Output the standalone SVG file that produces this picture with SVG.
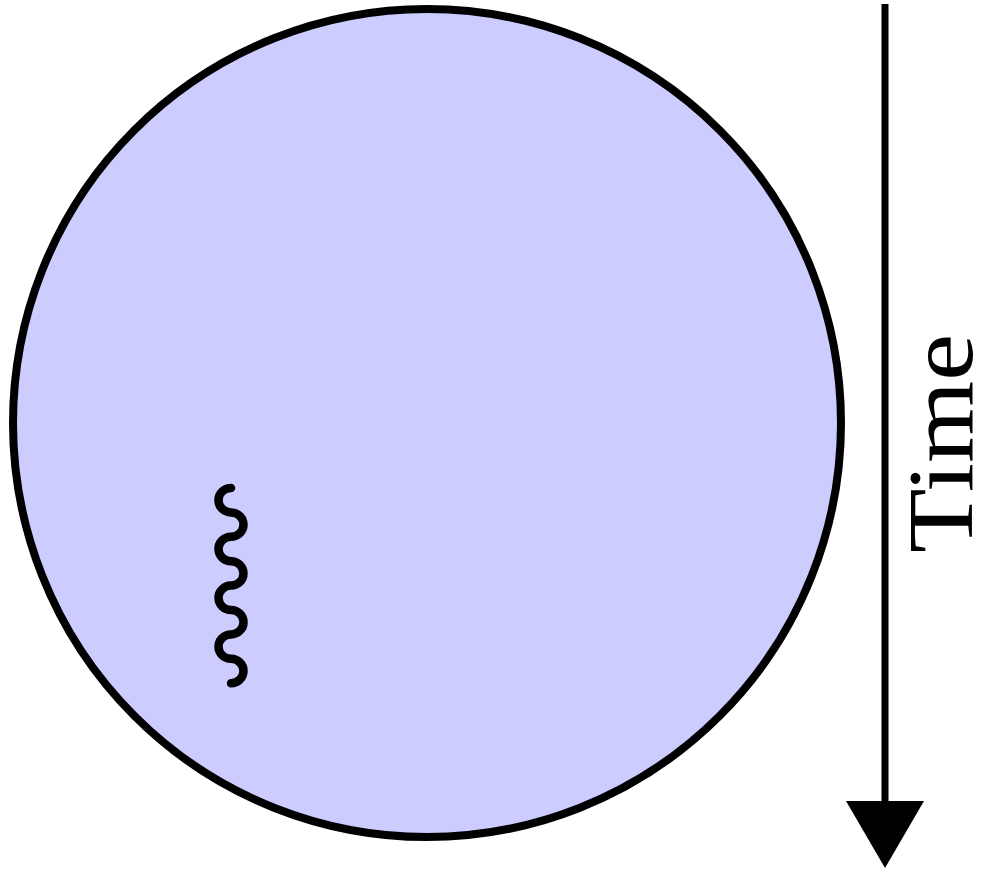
<svg xmlns="http://www.w3.org/2000/svg" width="992" height="871" viewBox="0 0 992 871">
  <style>
    .ink { stroke: #000; fill: none; }
    .label { font-family: "Liberation Serif", "DejaVu Serif", serif; font-size: 94px; fill: #000; }
  </style>
  <rect width="992" height="871" fill="#fff"/>
  <g id="sphere">
    <circle cx="427" cy="423" r="414" fill="#ccccff" stroke="#000" stroke-width="8"/>
  </g>
  <g id="wave">
    <path class="ink" stroke-width="8.5" stroke-linecap="round" d="M231,488 A12.5,12.2 0 0 0 231,512.4 A12.5,12.2 0 0 1 231,536.8 A12.5,12.2 0 0 0 231,561.2 A12.5,12.2 0 0 1 231,585.6 A12.5,12.2 0 0 0 231,610 A12.5,12.2 0 0 1 231,634.4 A12.5,12.2 0 0 0 231,658.8 A12.5,12.2 0 0 1 231,683.2"/>
  </g>
  <g id="connectors">
    <line class="ink" x1="885" y1="4" x2="885" y2="802" stroke-width="7"/>
    <polygon points="846,801 924,801 885,868" fill="#000"/>
  </g>
  <g id="time-label">
    <text class="label" transform="translate(972,553) rotate(-90)" textLength="219" lengthAdjust="spacingAndGlyphs">Time</text>
  </g>
</svg>
